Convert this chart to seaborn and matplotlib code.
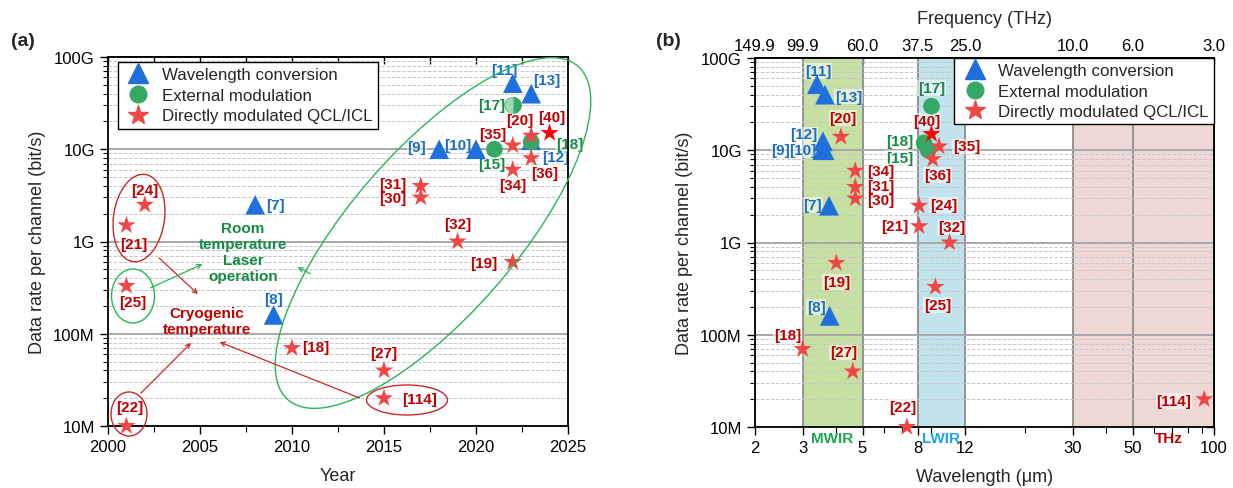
import numpy as np
import pandas as pd
import seaborn as sns
import matplotlib
matplotlib.use("Agg")
import matplotlib.pyplot as plt
from matplotlib.lines import Line2D
from matplotlib.patches import Ellipse, FancyArrowPatch
from matplotlib.ticker import (FixedLocator, FuncFormatter, LogLocator,
                               MultipleLocator, NullFormatter, NullLocator)

# ---- data -------------------------------------------------------------
tri_refs = ["[7]", "[8]", "[9]", "[10]", "[11]", "[12]", "[13]"]
tri_year = [2008, 2009, 2018, 2020, 2022, 2023, 2023]
tri_wl = [3.76, 3.78, 3.55, 3.62, 3.39, 3.57, 3.63]
tri_rate = [2.5e9, 1.6e8, 1e10, 1e10, 5.2e10, 1.25e10, 4e10]

circ_refs = ["[15]", "[17]", "[18]"]
circ_year = [2021, 2022, 2023]
circ_wl = [8.75, 9.0, 8.45]
circ_rate = [1e10, 3e10, 1.2e10]

star_refs = ["[18]", "[19]", "[20]", "[21]", "[22]", "[24]", "[25]", "[27]",
             "[30]", "[31]", "[32]", "[34]", "[35]", "[36]", "[40]", "[114]"]
star_year = [2010, 2022, 2023, 2001, 2001, 2002, 2001, 2015,
             2017, 2017, 2019, 2022, 2022, 2023, 2024, 2015]
star_wl = [3.0, 4.0, 4.16, 8.1, 7.3, 8.1, 9.3, 4.6,
           4.7, 4.7, 10.5, 4.7, 9.6, 9.1, 9.0, 92]
star_rate = [7e7, 6e8, 1.4e10, 1.5e9, 1e7, 2.5e9, 3.3e8, 4e7,
             3e9, 4e9, 1e9, 6e9, 1.1e10, 8e9, 1.5e10, 2e7]
bright_refs = ["[40]"]

legend_labels = ["Wavelength conversion", "External modulation",
                 "Directly modulated QCL/ICL"]
rate_ticks = [1e7, 1e8, 1e9, 1e10, 1e11]
rate_labels = ["10M", "100M", "1G", "10G", "100G"]
wl_ticks = [2, 3, 5, 8, 12, 30, 50, 100]
bands = [("MWIR", 3, 5), ("LWIR", 8, 12), ("THz", 30, 100)]
band_text_x = [3.87, 9.8, 68]

# ---- style ------------------------------------------------------------
BLUE, GREEN, RED, BRIGHT = "#1f6fdc", "#36a865", "#f04646", "#ff0000"
BLUE_T, GREEN_T, RED_T = "#1c6fc6", "#178a45", "#c00000"
band_colors = {"MWIR": "#c6e0a4", "LWIR": "#c3e3ec", "THz": "#eed8d5"}
band_text_colors = {"MWIR": "#1aa84f", "LWIR": "#1ea7e8", "THz": "#c00000"}
LBL = 11

sns.set_theme(style="ticks")
plt.rcParams["font.family"] = ["Liberation Sans", "DejaVu Sans"]
plt.rcParams["axes.edgecolor"] = "black"
plt.rcParams["axes.linewidth"] = 1.3
plt.rcParams["xtick.color"] = "black"
plt.rcParams["ytick.color"] = "black"

W, H = 1233, 489
fig = plt.figure(figsize=(W / 100, H / 100), dpi=100)
ax1 = fig.add_axes([108 / W, 1 - 427 / H, 460 / W, 369 / H])
ax2 = fig.add_axes([755 / W, 1 - 428 / H, 459 / W, 369 / H])

# label offsets in pixels (dx, dy, ha)
off_a = {
    "tri": {"[7]": (11, 0, "left"), "[8]": (0, 16, "center"), "[9]": (-13, 2, "right"),
            "[10]": (-5, 4, "right"), "[11]": (-8, 13, "center"), "[12]": (11, -17, "left"),
            "[13]": (2, 14, "left")},
    "circ": {"[15]": (-3, -15, "center"), "[17]": (-8, 0, "right"), "[18]": (25, -2, "left")},
    "star": {"[18]": (10, 1, "left"), "[19]": (-15, -1, "right"), "[20]": (-11, 16, "center"),
             "[21]": (7, -19, "center"), "[22]": (3, 19, "center"), "[24]": (0, 15, "center"),
             "[25]": (6, -16, "center"), "[27]": (0, 17, "center"), "[30]": (-14, -1, "right"),
             "[31]": (-14, 2, "right"), "[32]": (0, 17, "center"), "[34]": (0, -15, "center"),
             "[35]": (-20, 11, "center"), "[36]": (13, -15, "center"), "[40]": (2, 16, "center"),
             "[114]": (18, -1, "left")},
}
off_b = {
    "tri": {"[7]": (-7, 1, "right"), "[8]": (-4, 9, "right"), "[9]": (-32, 0, "right"),
            "[10]": (-8, 0, "right"), "[11]": (1, 13, "center"), "[12]": (-6, 7, "right"),
            "[13]": (10, -2, "left")},
    "circ": {"[15]": (-15, -8, "right"), "[17]": (0, 18, "center"), "[18]": (-11, 2, "right")},
    "star": {"[18]": (-15, 14, "center"), "[19]": (0, -19, "center"), "[20]": (2, 19, "center"),
             "[21]": (-11, 0, "right"), "[22]": (-4, 20, "center"), "[24]": (11, 1, "left"),
             "[25]": (2, -18, "center"), "[27]": (-9, 19, "center"), "[30]": (12, -2, "left"),
             "[31]": (12, 1, "left"), "[32]": (2, 15, "center"), "[34]": (12, 0, "left"),
             "[35]": (14, 0, "left"), "[36]": (5, -16, "center"), "[40]": (-5, 13, "center"),
             "[114]": (-13, -2, "right")},
}

kinds = {
    "tri": dict(marker="^", s=200, color=BLUE, text=BLUE_T),
    "circ": dict(marker="o", s=145, color=GREEN, text=GREEN_T),
    "star": dict(marker="*", s=190, color=RED, text=RED_T),
}


def draw_panel(ax, data, offsets):
    for kind, (refs, xs, ys) in data.items():
        st = kinds[kind]
        df = pd.DataFrame({"x": xs, "rate": ys, "ref": refs})
        df["bright"] = df["ref"].isin(bright_refs) & (kind == "star")
        sns.scatterplot(data=df, x="x", y="rate", hue="bright",
                        palette={False: st["color"], True: BRIGHT},
                        marker=st["marker"], s=st["s"], linewidth=0,
                        legend=False, ax=ax, zorder=3, clip_on=False)
        for r, x, y in zip(refs, xs, ys):
            dx, dy, ha = offsets[kind][r]
            ax.annotate(r, (x, y), xytext=(dx, dy), textcoords="offset pixels",
                        ha=ha, va="center", fontsize=LBL, fontweight="bold",
                        color=st["text"], zorder=2.5,
                        bbox=dict(boxstyle="square,pad=0.05", fc="white",
                                  ec="none", alpha=0.55))


def style_rate_axis(ax):
    ax.set_yscale("log")
    ax.set_ylim(1e7, 1e11)
    ax.yaxis.set_major_locator(FixedLocator(rate_ticks))
    ax.set_yticklabels(rate_labels)
    ax.yaxis.set_minor_locator(LogLocator(subs=np.arange(2, 10)))
    ax.yaxis.set_minor_formatter(NullFormatter())
    ax.yaxis.grid(True, which="major", color="#a8a8a8", lw=1.4)
    ax.yaxis.grid(True, which="minor", color="#c8c8c8", ls="--", lw=0.7)
    ax.set_axisbelow(True)
    ax.tick_params(axis="y", which="major", direction="out", length=6, width=1, labelsize=12)
    ax.tick_params(axis="y", which="minor", direction="out", length=3.5, width=0.8)
    ax.tick_params(axis="x", which="major", direction="out", length=6, width=1, labelsize=12)
    ax.tick_params(axis="x", which="minor", direction="out", length=4, width=0.8)
    ax.set_ylabel("Data rate per channel (bit/s)", fontsize=13, labelpad=5)


# ---- panel (a) ----------------------------------------------------------
draw_panel(ax1, {"tri": (tri_refs, tri_year, tri_rate),
                 "circ": (circ_refs, circ_year, circ_rate),
                 "star": (star_refs, star_year, star_rate)}, off_a)
i17 = circ_refs.index("[17]")
ax1.plot([circ_year[i17]], [circ_rate[i17]], marker="o", ms=12, ls="",
         fillstyle="right", mfc=GREEN, mfcalt="#9fd8b3", mec="none", zorder=3.2)
style_rate_axis(ax1)
ax1.set_xlim(2000, 2025)
ax1.xaxis.set_major_locator(MultipleLocator(5))
ax1.xaxis.set_minor_locator(MultipleLocator(2.5))
ax1.set_xlabel("Year", fontsize=13, labelpad=9)
top1 = ax1.secondary_xaxis("top")
top1.xaxis.set_major_locator(MultipleLocator(2.5))
top1.xaxis.set_major_formatter(NullFormatter())
top1.tick_params(direction="in", length=5, width=1)

handles = [Line2D([], [], marker="^", ls="", color=BLUE, ms=14.4),
           Line2D([], [], marker="o", ls="", color=GREEN, ms=12),
           Line2D([], [], marker="*", ls="", color=RED, ms=15)]
leg_kw = dict(fontsize=12.2, frameon=True, fancybox=False, framealpha=1,
              edgecolor="black", borderaxespad=0, handletextpad=0.5,
              labelspacing=0.33, borderpad=0.3, handlelength=1.8)
lg1 = ax1.legend(handles, legend_labels, loc="upper left",
                 bbox_to_anchor=(0.0217, 0.986), **leg_kw)
lg1.get_frame().set_linewidth(1.0)
lg1.set_zorder(6)

# ---- panel (b) ----------------------------------------------------------
for name, lo, hi in bands:
    ax2.axvspan(lo, hi, color=band_colors[name], lw=0, zorder=0.1)
draw_panel(ax2, {"tri": (tri_refs, tri_wl, tri_rate),
                 "circ": (circ_refs, circ_wl, circ_rate),
                 "star": (star_refs, star_wl, star_rate)}, off_b)
ax2.set_xscale("log")
style_rate_axis(ax2)
ax2.set_xlim(2, 100)
ax2.xaxis.set_major_locator(FixedLocator(wl_ticks))
ax2.xaxis.set_major_formatter(FuncFormatter(lambda v, p: f"{v:g}"))
ax2.xaxis.set_minor_formatter(NullFormatter())
ax2.xaxis.grid(True, which="major", color="#8c8c8c", lw=1.3)
ax2.set_xlabel("Wavelength (μm)", fontsize=13, labelpad=9)
for (name, lo, hi), tx in zip(bands, band_text_x):
    ax2.text(tx, -0.03, name, transform=ax2.get_xaxis_transform(), ha="center",
             va="center", color=band_text_colors[name], fontsize=LBL,
             fontweight="bold")

top2 = ax2.secondary_xaxis("top")
top2.xaxis.set_major_locator(FixedLocator(wl_ticks))
top2.xaxis.set_minor_locator(NullLocator())
top2.xaxis.set_major_formatter(FuncFormatter(lambda v, p: f"{299.79 / v:.1f}"))
top2.tick_params(direction="in", length=4, width=1, labelsize=12)
top2.set_xlabel("Frequency (THz)", fontsize=13, labelpad=11)
right2 = ax2.secondary_yaxis("right")
right2.yaxis.set_major_locator(FixedLocator(rate_ticks))
right2.yaxis.set_minor_locator(LogLocator(subs=np.arange(2, 10)))
right2.yaxis.set_major_formatter(NullFormatter())
right2.yaxis.set_minor_formatter(NullFormatter())
right2.tick_params(which="major", direction="in", length=6, width=1)
right2.tick_params(which="minor", direction="in", length=3.5, width=0.8)

lg2 = ax2.legend(handles, legend_labels, loc="upper right",
                 bbox_to_anchor=(1, 1), **leg_kw)
lg2.get_frame().set_linewidth(1.0)
lg2.set_zorder(6)

# ---- annotations on panel (a), in pixel coordinates ----------------------
def px(x, y):
    return (x / 100, (H - y) / 100)


ell_green, ell_red = "#2ab45a", "#c82828"
for cx, cy, w, h, ang, col in [(433, 234, 442, 165, 49, ell_green),
                               (139, 219, 51, 88, -8, ell_red),
                               (133, 297, 43, 54, 0, ell_green),
                               (129, 415, 36, 44, 0, ell_red),
                               (407, 401, 81, 30, 0, ell_red)]:
    fig.add_artist(Ellipse(px(cx, cy), w / 100, h / 100, angle=ang, fill=False,
                           ec=col, lw=1.0, transform=fig.dpi_scale_trans,
                           clip_on=False, zorder=5))
for a, b, col in [((157, 257), (200, 297), ell_red),
                  ((148, 290), (205, 264), ell_green),
                  ((139, 396), (193, 342), ell_red),
                  ((362, 400), (217, 342), ell_red),
                  ((313, 276), (295, 267), ell_green)]:
    fig.add_artist(FancyArrowPatch(px(*a), px(*b), arrowstyle="->", mutation_scale=8,
                                   color=col, lw=0.9, transform=fig.dpi_scale_trans,
                                   zorder=5))
fig.text(243 / W, 1 - 253 / H, "Room\ntemperature\nLaser\noperation", ha="center",
         va="center", color=GREEN_T, fontsize=11, fontweight="bold", linespacing=1.2)
fig.text(207 / W, 1 - 322 / H, "Cryogenic\ntemperature", ha="center", va="center",
         color=RED_T, fontsize=11, fontweight="bold", linespacing=1.2)

fig.text(23 / W, 1 - 42 / H, "(a)", ha="center", va="center", fontsize=14, fontweight="bold")
fig.text(668 / W, 1 - 42 / H, "(b)", ha="center", va="center", fontsize=14, fontweight="bold")

fig.savefig("out.png", dpi=100)
